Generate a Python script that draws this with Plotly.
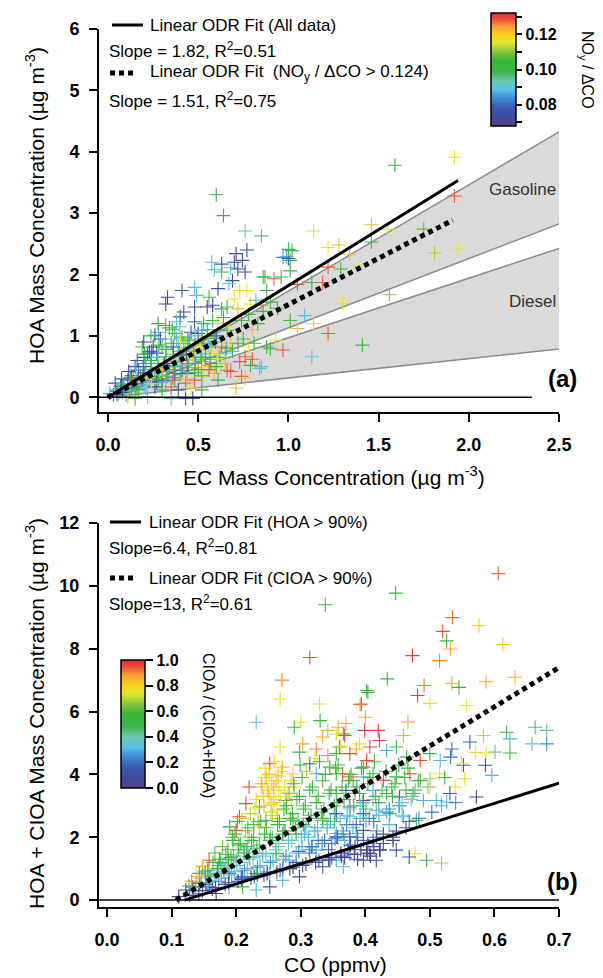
import plotly.graph_objects as go

# ---------------- Panel (a) data: EC vs HOA, coloured by NOy/dCO ----------------
ec_a = [0.60,0.64,0.76,0.85,1.14,1.22,1.02,0.99,1.01,1.01,0.77,0.71,0.745,0.70,0.63,0.575,0.59,0.68,0.72,0.76,
        0.63,0.69,0.67,0.87,0.92,0.96,0.88,0.73,0.77,0.61,0.56,0.48,0.49,0.33,0.32,0.41,0.55,0.58,0.63,0.66,
        0.72,0.79,0.85,0.82,0.48,0.42,0.40,0.38,0.48,0.53,0.61,0.66,0.74,0.32,0.34,0.28,0.26,0.37,0.41,0.46,
        0.50,0.52,0.55,0.59,0.25,0.23,0.22,0.30,0.35,0.39,0.42,0.48,0.53,0.57,0.63,0.68,0.72,0.78,0.81,0.15,
        0.17,0.21,0.28,0.32,0.37,0.41,0.44,0.48,0.52,0.57,0.63,0.66,0.68,0.73,0.76,0.79,0.85,0.88,0.93,0.97,
        1.13,0.74,0.71,0.76,0.59,0.61,0.53,0.48,0.43,0.37,0.33,0.30,0.26,0.22,0.19,0.11,0.04,0.08,0.13,0.17,
        0.21,0.26,0.30,0.35,0.39,0.46,0.52,0.01,0.03,0.06,0.10,0.15,0.22,0.35,0.43,0.47,0.11,0.37,0.41,0.44,
        0.30,0.57,0.61,0.52,0.46,0.19,1.92,1.59,1.92,1.46,1.55,1.46,1.75,1.81,1.94,1.28,1.34,1.22,1.29,1.39,
        1.56,1.30,1.41,1.22,1.14,1.09,1.05,1.01,0.90,0.84,0.80,0.97,1.00,1.00,0.86,1.05,1.13,1.19,
        0.05,0.07,0.09,0.12,0.14,0.16,0.18,0.20,0.23,0.24,0.27,0.28,0.31,0.34,0.36,0.38,0.40,0.43,0.45,0.47,
        0.50,0.51,0.54,0.55,0.58,0.60,0.62,0.64,0.65,0.67,0.69,0.70,0.74,0.75,0.78,0.80,0.83,0.86,0.90,0.94,
        0.29,0.27,0.24,0.20,0.13,0.10,
        0.05,0.055,0.08,0.085,0.075,0.12,0.125,0.115,0.16,0.165,0.155,0.162,0.20,0.205,0.195,0.202,0.198,0.24,0.245,0.235,
        0.242,0.238,0.28,0.285,0.275,0.282,0.278,0.32,0.325,0.315,0.322,0.318,0.36,0.365,0.355,0.362,0.358,0.40,0.405,0.395,
        0.402,0.398,0.44,0.445,0.435,0.442,0.48,0.485,0.475,0.482,0.52,0.525,0.515,0.522,0.56,0.565,0.555,0.60,0.605,0.595,
        0.65,0.655]
hoa_a = [3.30,2.96,2.71,2.63,2.71,2.44,2.39,2.29,2.23,2.06,2.40,2.34,2.23,2.20,2.17,2.20,2.08,2.11,2.09,2.04,
         2.04,1.90,1.85,1.96,1.93,1.96,1.74,1.74,1.74,1.77,1.63,1.79,1.66,1.63,1.52,1.74,1.47,1.50,1.44,1.47,
         1.44,1.52,1.50,1.58,1.47,1.39,1.31,1.23,1.23,1.20,1.20,1.09,1.04,1.17,1.13,1.06,1.01,1.04,0.98,1.06,
         1.04,1.09,0.98,0.96,0.82,0.74,0.71,0.82,0.88,0.82,0.88,0.85,0.88,0.82,0.82,0.88,0.88,0.82,0.88,0.50,
         0.44,0.55,0.61,0.66,0.58,0.61,0.55,0.61,0.58,0.55,0.58,0.44,0.42,0.58,0.66,0.52,0.50,0.82,0.93,0.77,
         0.66,0.34,0.15,0.31,0.39,0.28,0.34,0.28,0.23,0.28,0.34,0.28,0.34,0.25,0.28,0.28,0.23,0.15,0.17,0.12,
         0.15,0.17,0.12,0.17,0.12,0.15,0.12,0.06,0.04,0.06,0.04,-0.02,0.01,-0.02,-0.02,-0.02,0.01,0.39,0.44,0.39,
         0.44,0.71,0.71,0.71,0.71,0.82,3.91,3.78,3.28,2.81,2.74,2.53,2.74,2.35,2.42,2.48,2.33,2.12,2.09,2.14,
         1.67,1.53,0.85,1.04,1.20,1.33,1.12,1.25,0.79,0.47,0.62,2.28,2.26,2.41,1.96,1.84,1.87,1.87,
         0.10,0.18,0.22,0.10,0.30,0.22,0.35,0.40,0.30,0.45,0.25,0.48,0.52,0.45,0.70,0.95,0.75,0.80,0.92,0.65,
         0.45,0.80,0.65,1.10,1.25,1.00,0.65,1.30,0.72,1.15,0.75,1.60,1.25,0.95,1.35,1.10,1.20,1.40,1.55,1.45,
         0.95,0.72,0.60,0.65,0.35,0.12,
         0.05,0.12,0.08,0.20,0.30,0.18,0.32,0.42,0.14,0.30,0.45,0.60,0.20,0.35,0.50,0.70,0.90,0.22,0.40,0.55,
         0.75,1.00,0.30,0.45,0.65,0.85,1.20,0.25,0.42,0.55,0.78,0.95,0.32,0.50,0.62,0.82,1.10,0.38,0.52,0.68,
         0.90,1.15,0.30,0.48,0.70,0.95,0.40,0.55,0.75,1.00,0.35,0.50,0.65,0.95,0.45,0.62,0.85,0.50,0.70,0.90,
         0.55,0.80]
noy_ratio_a = [0.100,0.100,0.094,0.096,0.116,0.116,0.100,0.086,0.100,0.100,0.075,0.072,0.078,0.072,0.078,0.090,0.090,0.088,0.072,0.072,
               0.100,0.072,0.088,0.106,0.128,0.100,0.100,0.118,0.116,0.072,0.100,0.088,0.088,0.072,0.072,0.078,0.072,0.072,0.100,0.100,
               0.122,0.116,0.125,0.088,0.076,0.078,0.078,0.088,0.078,0.100,0.116,0.100,0.116,0.100,0.100,0.088,0.078,0.100,0.100,0.072,
               0.078,0.088,0.116,0.100,0.072,0.072,0.078,0.100,0.100,0.088,0.100,0.122,0.100,0.100,0.128,0.122,0.100,0.116,0.100,0.078,
               0.072,0.100,0.116,0.100,0.088,0.128,0.100,0.088,0.100,0.100,0.116,0.128,0.128,0.128,0.128,0.100,0.088,0.100,0.116,0.128,
               0.090,0.128,0.122,0.122,0.122,0.100,0.116,0.128,0.128,0.100,0.088,0.078,0.100,0.088,0.078,0.072,0.078,0.088,0.078,0.100,
               0.088,0.072,0.100,0.128,0.078,0.116,0.100,0.088,0.078,0.088,0.100,0.100,0.088,0.088,0.078,0.072,0.122,0.078,0.078,0.072,
               0.122,0.116,0.122,0.088,0.116,0.100,0.116,0.100,0.128,0.122,0.116,0.100,0.108,0.112,0.116,0.122,0.122,0.128,0.100,0.116,
               0.110,0.116,0.100,0.128,0.116,0.088,0.122,0.100,0.100,0.090,0.128,0.084,0.078,0.100,0.100,0.128,0.100,0.128,
               0.078,0.072,0.088,0.100,0.128,0.078,0.100,0.072,0.122,0.088,0.078,0.100,0.078,0.100,0.100,0.088,0.100,0.088,0.100,0.122,
               0.100,0.116,0.100,0.100,0.100,0.078,0.100,0.100,0.088,0.116,0.100,0.116,0.100,0.100,0.100,0.122,0.100,0.100,0.100,0.100,
               0.072,0.078,0.100,0.072,0.078,0.088,
               0.078,0.088,0.072,0.100,0.078,0.088,0.100,0.072,0.100,0.128,0.088,0.078,0.088,0.100,0.078,0.100,0.072,0.116,0.088,0.100,
               0.078,0.100,0.100,0.122,0.088,0.100,0.100,0.088,0.100,0.078,0.100,0.088,0.128,0.100,0.116,0.078,0.100,0.100,0.088,0.100,
               0.116,0.088,0.122,0.100,0.078,0.100,0.100,0.128,0.100,0.088,0.100,0.116,0.100,0.100,0.128,0.100,0.088,0.100,0.116,0.100,
               0.122,0.100]

# fits (a): slopes and x-extent of drawn lines
fit_a_slope = [1.82, 1.51]
fit_a_xmax = [1.94, 1.91]
# emission-ratio ranges (HOA/EC) shaded
gasoline_ratio = [1.13, 1.73]
diesel_ratio = [0.315, 0.97]
shade_x_end = 2.5

# ---------------- Panel (b) data: CO vs HOA+CIOA, coloured by CIOA fraction ----------------
co_b = [0.606,0.447,0.535,0.576,0.520,0.526,0.532,0.613,0.473,0.515,0.434,0.491,0.481,0.534,0.545,0.587,0.632,0.404,0.392,0.500,
        0.557,0.400,0.466,0.420,0.399,0.459,0.370,0.366,0.583,0.619,0.663,0.681,0.624,0.658,0.681,0.624,0.601,0.587,0.571,0.562,
        0.534,0.532,0.552,0.586,0.596,0.549,0.554,0.539,0.572,0.531,0.526,0.500,0.515,0.477,0.495,0.518,0.468,0.338,
        0.314,0.271,0.268,0.329,0.402,0.394,0.231,0.290,0.300,0.330,0.342,0.358,0.368,0.334,0.303,0.268,0.298,0.324,0.355,0.386,
        0.402,0.252,0.272,0.288,0.314,0.324,0.345,0.365,0.381,0.397,0.220,0.215,0.205,0.200,0.190,0.195,0.220,0.236,0.246,0.236,
        0.262,0.277,0.288,0.308,0.334,0.355,0.376,0.397,0.355,0.386,0.324,0.345,0.376,0.402,0.282,0.262,0.241,0.220,0.200,0.179,
        0.158,0.148,0.169,0.189,0.210,0.231,0.252,0.272,0.298,0.334,0.143,0.158,0.169,0.132,0.122,0.111,0.189,0.210,0.231,0.252,
        0.143,0.245,0.255,0.265,0.275,0.250,0.260,0.285,0.270,0.240,0.280,0.290,0.255,
        0.355,0.360,0.376,0.391,0.407,0.422,0.433,0.448,0.464,0.485,0.500,0.516,0.355,0.376,0.397,0.412,0.428,0.448,0.469,0.485,
        0.500,0.355,0.370,0.391,0.412,0.433,0.453,0.474,0.490,0.510,0.355,0.376,0.397,0.417,0.438,0.459,0.479,0.355,0.376,0.397,
        0.412,0.428,0.443,0.407,0.422,0.397,0.376,0.355,0.366,0.448,0.417,
        0.253,0.262,0.274,0.281,0.293,0.304,0.312,0.322,0.334,0.341,0.352,0.364,0.371,0.382,0.392,0.401,0.413,0.421,0.433,0.442,
        0.452,0.463,0.471,0.482,0.264,0.276,0.252,0.258,0.247,0.266,0.285,0.243,0.256,0.227,0.218,0.213,0.203,0.188,0.182,0.173,
        0.158,0.302,0.314,0.318,0.327,0.343,0.348,0.362,0.368,0.384,0.388,0.404,0.418,0.437,0.457,0.293,0.272,0.248,0.233,0.208,
        # dense core of the cloud, read column by column
        0.128,0.133,0.127,0.131,0.142,0.137,0.144,0.139,0.148,0.153,0.146,0.152,0.149,0.163,0.157,0.161,0.156,0.164,
        0.168,0.173,0.166,0.171,0.174,0.167,0.183,0.177,0.181,0.176,0.184,0.179,0.188,0.193,0.186,0.192,0.187,0.194,
        0.203,0.197,0.201,0.196,0.204,0.198,0.202,0.208,0.213,0.206,0.212,0.207,0.214,0.209,0.223,0.217,0.221,0.216,0.224,0.218,0.222,
        0.228,0.233,0.226,0.232,0.227,0.234,0.229,0.231,0.243,0.237,0.241,0.236,0.244,0.238,0.242,0.239,0.245,
        0.248,0.253,0.246,0.252,0.247,0.254,0.249,0.251,0.263,0.257,0.261,0.256,0.264,0.258,0.262,0.259,
        0.268,0.273,0.266,0.272,0.267,0.274,0.269,0.283,0.277,0.281,0.276,0.284,0.278,0.282,
        0.288,0.293,0.286,0.292,0.287,0.294,0.289,0.303,0.297,0.301,0.296,0.304,0.298,0.302,0.299,
        0.308,0.313,0.306,0.312,0.307,0.314,0.309,0.323,0.317,0.321,0.316,0.324,0.318,0.322,
        0.328,0.333,0.326,0.332,0.327,0.334,0.329,0.343,0.337,0.341,0.336,0.344,0.338,0.342,
        0.348,0.353,0.346,0.352,0.347,0.354,0.363,0.357,0.361,0.356,0.364,0.358,0.362,
        0.368,0.373,0.366,0.372,0.367,0.374,0.383,0.377,0.381,0.376,0.384,0.378,0.388,0.393,0.386,0.392,0.387,0.394,
        0.403,0.397,0.401,0.396,0.404,0.408,0.413,0.406,0.412,0.407,0.414,0.423,0.417,0.421,0.416,
        0.428,0.433,0.426,0.432,0.443,0.437,0.441,0.448,0.453,0.446,0.452,0.463,0.457,0.461,0.468,0.473,0.466,
        0.483,0.477,0.503,0.497,0.518,0.523,0.540]
mass_b = [10.39,9.77,8.99,8.73,8.55,8.25,7.99,8.13,7.78,7.62,7.04,6.83,6.51,6.90,6.77,6.95,7.09,6.61,6.22,6.26,
          6.19,5.82,5.67,5.40,5.40,5.24,5.62,5.29,5.24,5.34,5.50,5.40,5.13,4.97,4.97,4.68,4.71,4.68,4.70,5.03,
          4.81,4.55,4.29,4.29,3.97,4.34,3.86,3.60,3.28,3.39,3.12,3.86,4.02,1.48,1.27,1.18,1.37,9.40,
          7.72,7.00,6.40,6.24,6.67,6.24,5.66,5.50,5.66,5.71,5.40,5.50,5.24,5.19,4.97,4.87,4.71,4.81,4.66,4.81,
          4.44,4.34,4.23,4.02,4.34,4.02,4.23,4.02,3.81,3.92,3.60,3.07,2.65,2.22,2.33,1.90,2.00,2.33,2.54,2.96,
          2.86,3.17,2.54,2.33,2.54,2.75,2.96,3.17,2.01,2.12,1.59,1.27,1.48,1.59,1.27,1.48,1.48,1.38,1.27,1.16,
          1.27,1.06,0.85,0.85,0.74,0.85,0.85,0.63,0.74,1.06,0.53,0.42,0.21,0.42,0.32,0.11,0.42,0.42,0.32,0.42,
          0.85,3.90,3.70,3.95,3.60,3.40,3.20,3.80,4.10,3.60,3.40,3.60,3.05,
          5.29,4.87,4.66,4.97,4.87,5.08,4.76,4.87,4.55,4.44,4.66,4.44,4.02,3.92,4.23,4.02,3.81,3.92,4.02,3.81,
          3.60,3.39,3.49,3.39,3.49,3.39,3.28,3.39,3.17,3.17,2.75,2.65,2.75,2.86,2.75,2.65,2.54,2.12,2.01,2.22,
          1.90,1.80,1.90,1.48,1.59,1.27,1.48,1.27,1.06,1.59,1.27,
          2.0,1.8,2.2,1.9,2.1,2.4,2.0,2.2,2.6,2.3,2.5,2.2,2.4,3.0,2.6,2.9,2.5,3.1,2.8,3.3,
          3.0,3.5,3.2,3.8,2.6,3.0,3.3,3.6,3.9,3.5,3.2,3.0,2.7,2.4,1.7,1.5,1.6,1.3,1.0,1.1,
          0.8,1.7,1.5,1.7,1.9,1.6,1.8,1.5,1.9,1.7,2.0,1.8,2.2,2.4,2.7,1.2,1.0,0.9,0.8,0.7,
          0.15,0.30,0.45,0.60,0.20,0.40,0.55,0.75,0.30,0.50,0.70,0.90,1.10,0.35,0.55,0.75,0.95,1.20,
          0.40,0.60,0.80,1.00,1.30,1.50,0.50,0.70,0.90,1.20,1.45,1.70,0.55,0.80,1.05,1.35,1.60,2.00,
          0.60,0.90,1.10,1.40,1.75,2.10,2.50,0.65,0.95,1.20,1.50,1.80,2.20,2.60,0.70,1.00,1.30,1.60,1.90,2.30,2.75,
          0.75,1.05,1.35,1.65,2.00,2.50,2.90,3.20,0.80,1.10,1.40,1.75,2.10,2.50,3.30,3.70,4.20,
          0.85,1.20,1.50,1.90,2.30,2.80,3.50,4.00,0.90,1.25,1.60,2.00,2.40,3.10,3.80,4.40,
          0.95,1.30,1.70,2.10,2.50,2.90,3.30,1.00,1.40,1.80,2.20,2.60,3.00,3.40,
          1.05,1.50,1.90,2.30,2.75,3.20,3.70,1.10,1.55,2.00,2.50,2.90,3.30,3.90,4.30,
          1.15,1.60,2.10,2.60,3.00,3.50,4.10,1.20,1.70,2.20,2.70,3.10,3.60,4.50,
          1.25,1.80,2.30,2.80,3.30,3.80,4.40,1.30,1.90,2.40,2.90,3.40,4.00,4.60,
          1.35,1.95,2.50,3.00,3.50,4.20,1.40,2.00,2.60,3.10,3.60,4.30,4.90,
          1.35,1.60,2.10,2.70,3.20,3.80,1.45,1.75,2.30,2.90,3.40,4.00,1.30,1.60,2.40,3.00,3.60,4.20,
          1.50,1.90,2.50,3.10,3.70,1.40,1.70,2.60,3.20,3.90,4.40,1.60,2.00,2.70,3.30,
          2.10,2.80,3.50,4.10,2.00,2.90,3.60,2.20,3.00,3.70,4.30,2.30,3.10,3.90,2.50,3.30,4.20,
          2.60,3.50,2.80,3.60,3.00,3.90,3.10]
cioa_frac_b = [0.93,0.55,0.92,0.82,0.95,0.55,0.86,0.82,0.97,0.90,0.55,0.92,0.97,0.86,0.55,0.86,0.86,0.55,0.90,0.76,
               0.74,0.86,0.86,0.97,0.97,0.86,0.86,0.55,0.70,0.55,0.45,0.42,0.30,0.32,0.25,0.55,0.42,0.76,0.76,0.18,
               0.20,0.20,0.15,0.10,0.30,0.76,0.76,0.76,0.08,0.15,0.30,0.68,0.76,0.76,0.55,0.68,0.15,0.55,
               0.95,0.90,0.78,0.76,0.55,0.93,0.35,0.55,0.76,0.55,0.68,0.86,0.95,0.86,0.86,0.76,0.55,0.90,0.55,0.86,
               0.95,0.95,0.84,0.78,0.15,0.30,0.55,0.95,0.55,0.30,0.95,0.95,0.95,0.95,0.55,0.55,0.68,0.76,0.55,0.55,
               0.76,0.55,0.55,0.30,0.55,0.55,0.15,0.05,0.15,0.30,0.30,0.05,0.15,0.05,0.30,0.55,0.30,0.55,0.30,0.40,
               0.95,0.86,0.30,0.15,0.15,0.55,0.30,0.30,0.05,0.15,0.05,0.05,0.05,0.15,0.05,0.05,0.30,0.55,0.30,0.15,
               0.55,0.82,0.80,0.84,0.78,0.80,0.76,0.80,0.82,0.84,0.76,0.70,0.78,
               0.76,0.55,0.95,0.76,0.95,0.95,0.30,0.55,0.55,0.95,0.55,0.30,0.55,0.92,0.55,0.55,0.95,0.55,0.95,0.55,
               0.76,0.55,0.15,0.55,0.30,0.55,0.15,0.55,0.30,0.30,0.15,0.30,0.15,0.30,0.55,0.30,0.55,0.30,0.05,0.15,
               0.05,0.15,0.05,0.05,0.05,0.05,0.30,0.30,0.30,0.15,0.05,
               0.45,0.40,0.55,0.30,0.50,0.55,0.30,0.40,0.60,0.45,0.50,0.30,0.25,0.55,0.30,0.45,0.20,0.50,0.30,0.55,
               0.25,0.60,0.40,0.55,0.70,0.80,0.82,0.85,0.80,0.78,0.75,0.82,0.70,0.60,0.45,0.40,0.55,0.50,0.35,0.60,
               0.50,0.30,0.20,0.35,0.25,0.15,0.20,0.10,0.30,0.12,0.20,0.10,0.25,0.30,0.35,0.15,0.20,0.30,0.25,0.20,
               0.05,0.15,0.55,0.90,0.05,0.30,0.50,0.85,0.05,0.15,0.40,0.55,0.80,0.10,0.30,0.45,0.55,0.60,
               0.05,0.20,0.35,0.50,0.55,0.60,0.10,0.30,0.45,0.50,0.55,0.65,0.15,0.30,0.40,0.55,0.60,0.55,
               0.10,0.30,0.35,0.45,0.55,0.60,0.55,0.15,0.25,0.40,0.50,0.55,0.65,0.70,0.05,0.30,0.35,0.45,0.55,0.60,0.70,
               0.10,0.25,0.40,0.50,0.55,0.65,0.75,0.80,0.15,0.30,0.35,0.45,0.55,0.60,0.82,0.86,0.80,
               0.05,0.25,0.40,0.50,0.60,0.72,0.80,0.84,0.10,0.30,0.35,0.45,0.55,0.78,0.82,0.78,
               0.15,0.30,0.40,0.50,0.55,0.60,0.76,0.05,0.25,0.35,0.45,0.55,0.55,0.65,
               0.10,0.30,0.40,0.50,0.55,0.60,0.55,0.05,0.20,0.35,0.45,0.55,0.55,0.60,0.55,
               0.10,0.25,0.30,0.45,0.55,0.55,0.70,0.05,0.20,0.35,0.50,0.55,0.55,0.76,
               0.10,0.25,0.30,0.45,0.55,0.60,0.55,0.05,0.20,0.35,0.45,0.55,0.55,0.90,
               0.15,0.25,0.30,0.50,0.55,0.60,0.05,0.20,0.35,0.45,0.55,0.55,0.80,
               0.05,0.05,0.25,0.30,0.50,0.55,0.05,0.10,0.30,0.40,0.55,0.60,0.05,0.05,0.20,0.35,0.55,0.55,
               0.05,0.15,0.30,0.45,0.55,0.05,0.10,0.25,0.40,0.55,0.55,0.05,0.15,0.30,0.50,
               0.10,0.30,0.45,0.55,0.05,0.25,0.50,0.10,0.30,0.55,0.55,0.15,0.35,0.50,0.20,0.40,0.55,
               0.25,0.45,0.20,0.40,0.30,0.50,0.25]

# fits (b): start x (CO background) and end points at CO = 0.7
fit_b_x = [[0.120, 0.70], [0.107, 0.70]]
fit_b_y = [[0.0, 3.72], [0.0, 7.40]]

# ---------------- layout helpers ----------------
W, H = 603, 978
ML, MR, MT, MB = 99, 44, 29, 71
PW, PH = W - ML - MR, H - MT - MB
def xp(px):
    return (px - ML) / PW
def yp(py):
    return (H - MB - py) / PH

FONT = "Liberation Sans, Arial, sans-serif"
rainbow = [[0.0, '#5b3f8c'], [0.08, '#3d4a9c'], [0.17, '#3a5cb0'], [0.25, '#3f8fd6'],
           [0.32, '#56c1e8'], [0.40, '#72c7b0'], [0.48, '#3db54a'], [0.58, '#3ab53a'],
           [0.66, '#8cc63f'], [0.74, '#e6e62a'], [0.80, '#f7d41e'], [0.88, '#f7a035'],
           [0.95, '#ee4a3a'], [1.0, '#e5283a']]

fig = go.Figure()

# shaded emission ratio wedges
for ratios in (gasoline_ratio, diesel_ratio):
    fig.add_trace(go.Scatter(
        x=[0, shade_x_end, shade_x_end, 0],
        y=[0, shade_x_end * ratios[1], shade_x_end * ratios[0], 0],
        fill='toself', fillcolor='#dadada', mode='lines', line=dict(width=0),
        hoverinfo='skip', showlegend=False, xaxis='x', yaxis='y'))
    for r in ratios:
        fig.add_trace(go.Scatter(
            x=[0, shade_x_end], y=[0, shade_x_end * r], mode='lines',
            line=dict(color='#8c8c8c', width=1.5), hoverinfo='skip',
            showlegend=False, xaxis='x', yaxis='y'))

ca_min, ca_max = 0.068, 0.132
fig.add_trace(go.Scatter(
    x=ec_a, y=hoa_a, mode='markers', xaxis='x', yaxis='y', showlegend=False,
    marker=dict(symbol='cross-thin', size=10, color=noy_ratio_a, colorscale=rainbow,
                cmin=ca_min, cmax=ca_max, showscale=True,
                line=dict(width=1.1, color=noy_ratio_a, colorscale=rainbow, cmin=ca_min, cmax=ca_max),
                colorbar=dict(x=xp(491), xanchor='left', xpad=0, ypad=0,
                              y=yp(69.5), yanchor='middle', len=113, lenmode='pixels',
                              thickness=25, thicknessmode='pixels',
                              outlinewidth=1.5, outlinecolor='black',
                              ticks='outside', ticklen=6, tickwidth=2, tickcolor='black',
                              tickvals=[0.07, 0.08, 0.09, 0.10, 0.11, 0.12, 0.13],
                              ticktext=['', '0.08', '', '0.10', '', '0.12', ''],
                              tickfont=dict(family=FONT, size=16, color='black', weight='bold')))))

for s, xm, dash, wdt in zip(fit_a_slope, fit_a_xmax, ['solid', '5px,4px'], [3, 5]):
    fig.add_trace(go.Scatter(x=[0, xm], y=[0, s * xm], mode='lines',
                             line=dict(color='black', width=wdt, dash=dash),
                             hoverinfo='skip', showlegend=False, xaxis='x', yaxis='y'))

cb_min, cb_max = 0.0, 1.0
fig.add_trace(go.Scatter(
    x=co_b, y=mass_b, mode='markers', xaxis='x2', yaxis='y2', showlegend=False,
    marker=dict(symbol='cross-thin', size=10, color=cioa_frac_b, colorscale=rainbow,
                cmin=cb_min, cmax=cb_max, showscale=True,
                line=dict(width=1.1, color=cioa_frac_b, colorscale=rainbow, cmin=cb_min, cmax=cb_max),
                colorbar=dict(x=xp(121), xanchor='left', xpad=0, ypad=0,
                              y=yp(724), yanchor='middle', len=128, lenmode='pixels',
                              thickness=24, thicknessmode='pixels',
                              outlinewidth=1.5, outlinecolor='black',
                              ticks='outside', ticklen=8, tickwidth=2, tickcolor='black',
                              tickvals=[0, 0.2, 0.4, 0.6, 0.8, 1.0],
                              ticktext=['0.0', '0.2', '0.4', '0.6', '0.8', '1.0'],
                              tickfont=dict(family=FONT, size=16, color='black', weight='bold')))))

for fx, fy, dash, wdt in zip(fit_b_x, fit_b_y, ['solid', '5px,4px'], [3, 5]):
    fig.add_trace(go.Scatter(x=fx, y=fy, mode='lines',
                             line=dict(color='black', width=wdt, dash=dash),
                             hoverinfo='skip', showlegend=False, xaxis='x2', yaxis='y2'))

axis_common = dict(showgrid=False, zeroline=False, showline=True, linecolor='black', linewidth=2,
                   ticks='outside', ticklen=8, tickwidth=2, tickcolor='black',
                   tickfont=dict(family=FONT, size=18, color='black', weight='bold'))

fig.update_layout(
    width=W, height=H, margin=dict(l=ML, r=MR, t=MT, b=MB),
    paper_bgcolor='white', plot_bgcolor='white', showlegend=False,
    font=dict(family=FONT, color='black'),
    xaxis=dict(domain=[0, 1], anchor='y', range=[-0.05, 2.5], dtick=0.5, tickformat='.1f',
               ticklabelstandoff=7, **axis_common),
    yaxis=dict(domain=[yp(412), 1], anchor='x', range=[-0.24, 6.0], dtick=1,
               ticklabelstandoff=6, **axis_common),
    xaxis2=dict(domain=[0, 1], anchor='y2', range=[-0.0125, 0.7], dtick=0.1, tickformat='.1f',
                ticklabelstandoff=7, **axis_common),
    yaxis2=dict(domain=[0, yp(523)], anchor='x2', range=[-0.22, 12.0], dtick=2,
                ticklabelstandoff=6, **axis_common),
)

# zero reference lines
fig.add_shape(type='line', xref='x', yref='y', x0=-0.05, x1=2.35, y0=0, y1=0,
              line=dict(color='black', width=1.5))
fig.add_shape(type='line', xref='x2', yref='y2', x0=-0.0125, x1=0.7, y0=0, y1=0,
              line=dict(color='black', width=1.5))

# legend samples
fig.add_shape(type='line', xref='paper', yref='paper', x0=xp(112), x1=xp(143), y0=yp(25), y1=yp(25),
              line=dict(color='black', width=3))
fig.add_shape(type='line', xref='paper', yref='paper', x0=xp(110), x1=xp(133), y0=yp(73), y1=yp(73),
              line=dict(color='black', width=5, dash='5px,4px'))
fig.add_shape(type='line', xref='paper', yref='paper', x0=xp(110), x1=xp(141), y0=yp(522), y1=yp(522),
              line=dict(color='black', width=3))
fig.add_shape(type='line', xref='paper', yref='paper', x0=xp(110), x1=xp(133), y0=yp(578), y1=yp(578),
              line=dict(color='black', width=5, dash='5px,4px'))

def note(text, px, py, size=17, xanchor='left', angle=0, bold=False, color='black'):
    fig.add_annotation(text=text, x=xp(px), y=yp(py), xref='paper', yref='paper',
                       xanchor=xanchor, yanchor='middle', showarrow=False, textangle=angle,
                       font=dict(family=FONT, size=size, color=color,
                                 weight='bold' if bold else 'normal'))

note('Linear ODR Fit (All data)', 148, 25)
note('Slope = 1.82, R<sup>2</sup>=0.51', 107, 50)
note('Linear ODR Fit  (NO<sub>y</sub> / ΔCO > 0.124)', 148, 73)
note('Slope = 1.51, R<sup>2</sup>=0.75', 107, 100)
note('Linear ODR Fit (HOA > 90%)', 147, 522)
note('Slope=6.4, R<sup>2</sup>=0.81', 107, 547)
note('Linear ODR Fit (CIOA > 90%)', 147, 578)
note('Slope=13, R<sup>2</sup>=0.61', 107, 603)

note('NO<sub>y</sub> / ΔCO', 587, 70, size=16, xanchor='center', angle=90)
note('CIOA / (CIOA+HOA)', 209, 725, size=16, xanchor='center', angle=90)

note('Gasoline', 522, 190, xanchor='center', color='#333333')
note('Diesel', 532, 302, xanchor='center', color='#333333')
note('(a)', 562, 378, size=24, xanchor='center', bold=True)
note('(b)', 562, 881, size=24, xanchor='center', bold=True)

note('HOA Mass Concentration (µg m<sup>-3</sup>)', 35, 206, size=21, xanchor='center', angle=-90)
note('EC Mass Concentration (µg m<sup>-3</sup>)', 334, 476, size=21, xanchor='center')
note('HOA + CIOA Mass Concentration (µg m<sup>-3</sup>)', 35, 714, size=21, xanchor='center', angle=-90)
note('CO (ppmv)', 335, 964, size=21, xanchor='center')

fig.write_html("out.html", config={'displayModeBar': False},
               post_script="document.body.style.margin='0px';")
